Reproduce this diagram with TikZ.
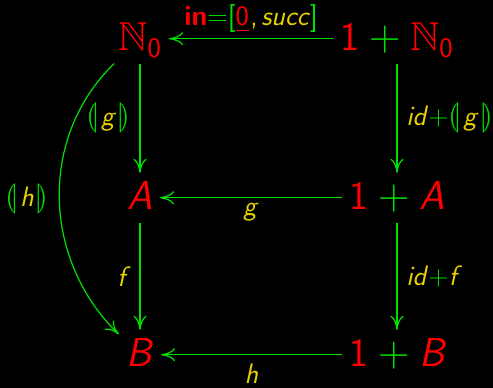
\documentclass[tikz,border=0pt]{standalone}
\usepackage{xcolor}
\definecolor{objred}{HTML}{FF0000}
\definecolor{mapgreen}{HTML}{00E000}
\definecolor{lblyellow}{HTML}{E6D000}
\usepackage{amsmath,amssymb,stmaryrd}
\usepackage{tikz}
\usetikzlibrary{arrows.meta}
\newcommand{\plusop}{\mathbin{\textcolor{mapgreen}{+}}}
\newcommand{\lbl}[1]{\textcolor{lblyellow}{\textit{#1}}}
\newcommand{\gplus}{\textcolor{mapgreen}{+}}
\newcommand{\cata}[1]{\textcolor{mapgreen}{$\llparenthesis$}\kern1.5pt\lbl{#1}\kern1.5pt\textcolor{mapgreen}{$\rrparenthesis$}}

\begin{document}
\begin{tikzpicture}[x=0.02cm, y=0.02cm,
  obj/.style={font=\sffamily\fontsize{23}{27}\selectfont, text=objred,
    text height=17pt, text depth=3pt, inner sep=4pt, anchor=base},
  lab/.style={font=\sffamily\fontsize{16}{19}\selectfont, text=lblyellow, inner sep=3pt},
  map/.style={draw=mapgreen, line width=0.7pt, -{To[length=2.8mm,width=2.6mm]}}]
  \fill[black] (0,0) rectangle (493,388);
  \useasboundingbox (0,0) rectangle (493,388);

  \node[obj] (N0) at (140,337) {$\mathbb{N}_{\text{0}}$};
  \node[obj] (NN) at (397,337) {$\text{1}\plusop\mathbb{N}_{\text{0}}$};
  \node[obj] (A)  at (140,178) {\textit{A}};
  \node[obj] (AA) at (397,178) {$\text{1}\plusop\textit{A}$};
  \node[obj] (B)  at (140,21)  {\textit{B}};
  \node[obj] (BB) at (397,21)  {$\text{1}\plusop\textit{B}$};

  \draw[map] (NN) -- node[lab, above] {\textcolor{objred}{\textbf{in}}\textcolor{mapgreen}{=[}\textcolor{objred}{\underline{0}}\textcolor{lblyellow}{\kern1pt,\kern2pt\textit{succ}}\textcolor{mapgreen}{]}} (N0);
  \draw[map] (AA) -- node[lab, below] {\lbl{g}} (A);
  \draw[map] (BB) -- node[lab, below, yshift=-2pt] {\lbl{h}} (B);

  \draw[map] (N0) -- node[lab, left=2pt] {\cata{g}} (A);
  \draw[map] (A) -- node[lab, left=2pt] {\lbl{f}} (B);
  \draw[map] (NN) -- node[lab, right=2pt] {\lbl{id}\gplus\cata{g}} (AA);
  \draw[map] (AA) -- node[lab, right=2pt] {\lbl{id}\gplus\lbl{f}} (BB);

  \draw[map] (N0) to[out=224, in=136] node[lab, left=3pt] {\cata{h}} (B);
\end{tikzpicture}
\end{document}
